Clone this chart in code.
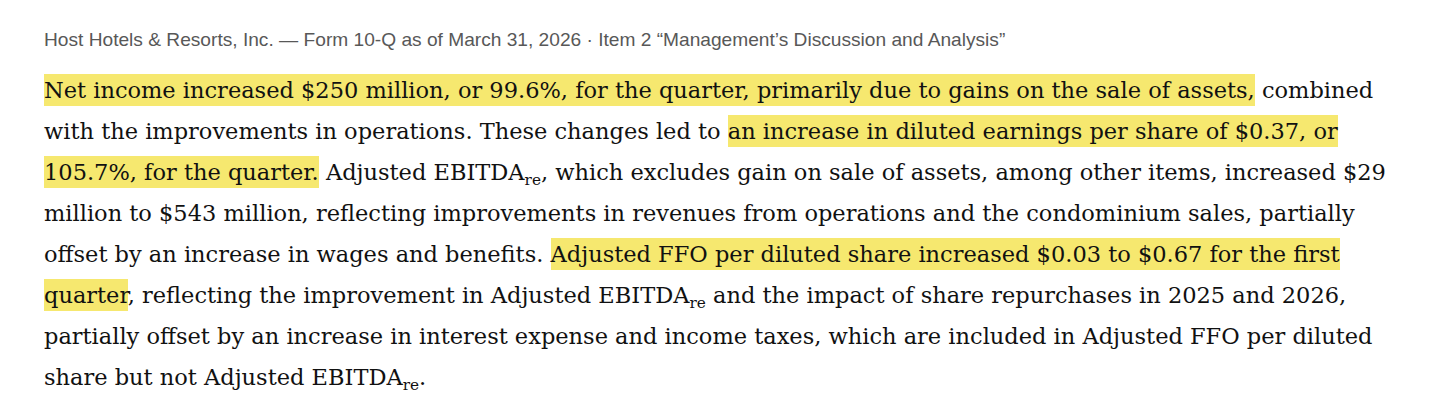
<!DOCTYPE html>
<html>
<head>
<meta charset="utf-8">
<script src="https://cdn.jsdelivr.net/npm/chart.js@4.4.1/dist/chart.umd.min.js"></script>
<style>
    html, body {
        margin: 0;
        padding: 0;
        background: #ffffff;
        width: 1440px;
        height: 420px;
        overflow: hidden;
    }
    #title {
        position: absolute;
        left: 44px;
        top: 29px;
        font-family: "Liberation Sans", Arial, sans-serif;
        font-size: 18px;
        line-height: 22px;
        color: #585858;
        white-space: nowrap;
    }
    #body {
        position: absolute;
        left: 44px;
        top: 70px;
        font-family: "DejaVu Serif", serif;
        font-size: 22px;
        line-height: 41px;
        color: #111111;
    }
    .line {
        white-space: nowrap;
        height: 41px;
    }
    .hl {
        background: #f6e86f;
        padding: 3px 0;
    }
    sub {
        font-size: 0.68em;
        vertical-align: -0.35em;
        line-height: 0;
    }
</style>
</head>
<body>
<div id="title"></div>
<div id="body"></div>
<script>
// 見出し
const titleText = 'Host Hotels & Resorts, Inc. — Form 10-Q as of March 31, 2026 · Item 2 “Management’s Discussion and Analysis”';

// 本文（行ごと、[テキスト, ハイライト有無]）。「_re」は下付き文字
const line1 = [['Net income increased $250 million, or 99.6%, for the quarter, primarily due to gains on the sale of assets,', true], [' combined', false]];
const line2 = [['with the improvements in operations. These changes led to ', false], ['an increase in diluted earnings per share of $0.37, or', true]];
const line3 = [['105.7%, for the quarter.', true], [' Adjusted EBITDA_re, which excludes gain on sale of assets, among other items, increased $29', false]];
const line4 = [['million to $543 million, reflecting improvements in revenues from operations and the condominium sales, partially', false]];
const line5 = [['offset by an increase in wages and benefits. ', false], ['Adjusted FFO per diluted share increased $0.03 to $0.67 for the first', true]];
const line6 = [['quarter', true], [', reflecting the improvement in Adjusted EBITDA_re and the impact of share repurchases in 2025 and 2026,', false]];
const line7 = [['partially offset by an increase in interest expense and income taxes, which are included in Adjusted FFO per diluted', false]];
const line8 = [['share but not Adjusted EBITDA_re.', false]];

const lines = [line1, line2, line3, line4, line5, line6, line7, line8];

function escapeHtml(s) {
    return s.replace(/&/g, '&amp;').replace(/</g, '&lt;').replace(/>/g, '&gt;');
}

function renderSegment([text, highlighted]) {
    const html = escapeHtml(text).replace(/_re/g, '<sub>re</sub>');
    return highlighted ? `<span class="hl">${html}</span>` : html;
}

// 要素の幅を目標幅に合わせるための文字サイズ調整
function fitWidth(el, baseSize, target) {
    const probe = document.createElement('span');
    probe.style.whiteSpace = 'nowrap';
    probe.innerHTML = el.innerHTML;
    el.innerHTML = '';
    el.appendChild(probe);
    const w = probe.getBoundingClientRect().width;
    el.innerHTML = probe.innerHTML;
    return baseSize * target / w;
}

function render() {
    const title = document.getElementById('title');
    title.textContent = titleText;
    title.style.fontSize = fitWidth(title, 18, 962).toFixed(2) + 'px';

    const body = document.getElementById('body');
    body.innerHTML = lines
        .map(segs => `<div class="line">${segs.map(renderSegment).join('')}</div>`)
        .join('');

    // 1行目の幅が元画像（約1330px）に合うよう調整
    const first = body.querySelector('.line');
    body.style.fontSize = fitWidth(first, 22, 1330).toFixed(2) + 'px';
}

render();
</script>
</body>
</html>
